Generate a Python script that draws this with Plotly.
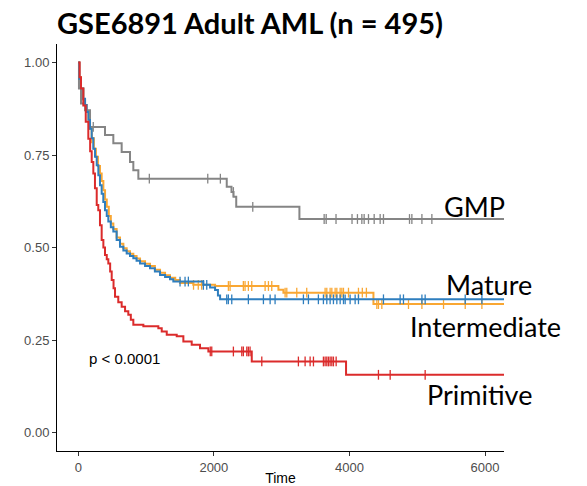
import numpy as np
import plotly.graph_objects as go

# ---------------- data ----------------
group_names = ["GMP", "Mature", "Intermediate", "Primitive"]

gmp_time = [0, 10, 40, 99, 173, 394, 517, 640, 763, 812, 886, 2190, 2260, 2290, 2330, 3262, 6280]
gmp_surv = [1.0, 0.93, 0.889, 0.871, 0.826, 0.804, 0.782, 0.758, 0.731, 0.709, 0.686, 0.664, 0.65, 0.637, 0.61, 0.577, 0.577]
gmp_cens = [221, 1048, 1910, 2096, 2288, 2574, 3627, 3657, 3802, 4038, 4118, 4183, 4217, 4281, 4365,
            4453, 4502, 4886, 4921, 5069, 5216]

mat_time = [0, 15, 40, 74, 100, 124, 150, 173, 198, 221, 247, 272, 296, 320, 345, 369, 394, 420, 443, 480,
            517, 566, 615, 665, 714, 763, 812, 860, 911, 985, 1058, 1130, 1206, 1280, 1353, 1402, 1845, 1944,
            2018, 2060, 2092, 6280]
mat_surv = [1.0, 0.956, 0.93, 0.902, 0.885, 0.866, 0.845, 0.821, 0.795, 0.767, 0.745, 0.722, 0.695, 0.668,
            0.645, 0.623, 0.601, 0.585, 0.57, 0.555, 0.543, 0.52, 0.502, 0.492, 0.484, 0.477, 0.471, 0.464,
            0.457, 0.45, 0.444, 0.435, 0.426, 0.42, 0.414, 0.408, 0.399, 0.392, 0.385, 0.37, 0.36, 0.36]
mat_cens = [1501, 1575, 1624, 1845, 1895, 2190, 2214, 2264, 2509, 2731, 2830, 2903, 3321, 3395, 3542, 3616,
            3666, 3715, 3764, 3814, 3863, 3912, 3937, 4010, 4084, 4133, 4502, 4748, 4797, 5069, 5117, 5708, 5954]

int_time = [0, 15, 40, 74, 100, 124, 150, 173, 198, 230, 260, 290, 320, 345, 370, 395, 420, 450, 480, 517,
            566, 615, 665, 714, 763, 812, 860, 911, 985, 1058, 1130, 1206, 1280, 1353, 1430, 1500, 1697, 2018,
            2952, 3026, 4354, 6280]
int_surv = [1.0, 0.96, 0.93, 0.90, 0.885, 0.866, 0.845, 0.821, 0.795, 0.767, 0.745, 0.72, 0.70, 0.68, 0.655,
            0.63, 0.61, 0.585, 0.565, 0.55, 0.527, 0.51, 0.498, 0.49, 0.483, 0.477, 0.47, 0.463, 0.456, 0.45,
            0.44, 0.432, 0.425, 0.418, 0.412, 0.404, 0.399, 0.396, 0.386, 0.378, 0.347, 0.347]
int_cens = [198, 1700, 1770, 1820, 2214, 2239, 2435, 2460, 2509, 2559, 2756, 2805, 2854, 3051, 3076, 3223,
            3370, 3641, 3666, 3715, 3740, 3789, 3814, 3863, 3888, 3912, 3986, 4133, 4190, 4250, 4404, 4428,
            4478, 4871, 5069, 5388, 5708, 5954]

pri_time = [0, 20, 40, 74, 110, 148, 175, 198, 222, 246, 272, 295, 320, 345, 370, 394, 420, 443, 470, 493,
            520, 542, 590, 640, 690, 738, 775, 812, 960, 1181, 1231, 1305, 1452, 1550, 1673, 1796, 1919, 2559,
            3950, 6280]
pri_surv = [1.0, 0.96, 0.93, 0.884, 0.84, 0.794, 0.76, 0.731, 0.70, 0.66, 0.615, 0.601, 0.56, 0.52, 0.50,
            0.48, 0.468, 0.457, 0.435, 0.412, 0.39, 0.367, 0.352, 0.34, 0.328, 0.318, 0.305, 0.291, 0.287,
            0.282, 0.273, 0.264, 0.26, 0.246, 0.237, 0.228, 0.219, 0.192, 0.156, 0.156]
pri_cens = [1947, 1969, 2288, 2412, 2435, 2486, 2509, 2534, 2707, 3247, 3346, 3420, 3469, 3616, 3641, 3666,
            3690, 3715, 3740, 3764, 3804, 4428, 4601, 5117]

x_ticks = [0, 2000, 4000, 6000]
y_ticks = [0.0, 0.25, 0.5, 0.75, 1.0]
y_tick_labels = ["0.00", "0.25", "0.50", "0.75", "1.00"]

title_text = "GSE6891 Adult AML (n = 495)"
pval_text = "p < 0.0001"
x_title = "Time"

# ---------------- styling ----------------
colors = {"GMP": "#858585", "Mature": "#2E7EBE", "Intermediate": "#F9A733", "Primitive": "#DB2B2B"}
series = {
    "GMP": (gmp_time, gmp_surv, gmp_cens),
    "Mature": (mat_time, mat_surv, mat_cens),
    "Intermediate": (int_time, int_surv, int_cens),
    "Primitive": (pri_time, pri_surv, pri_cens),
}
draw_order = ["GMP", "Intermediate", "Mature", "Primitive"]

OFF = 8                      # default page body margin
W, H = 587 - OFF, 486 - OFF
L, R, T, B = 57 - OFF, 83, 44 - OFF, 34.5
x_range = [-314, 6280]
y_range = [-0.05, 1.05]

fig = go.Figure()
for name in draw_order:
    t, s, c = series[name]
    t = np.asarray(t, float)
    s = np.asarray(s, float)
    col = colors[name]
    fig.add_trace(go.Scatter(x=t, y=s, mode="lines", line=dict(color=col, width=2, shape="hv"),
                             name=name, showlegend=False, hoverinfo="skip"))
    c = np.asarray(c, float)
    idx = np.searchsorted(t, c, side="right") - 1
    fig.add_trace(go.Scatter(x=c, y=s[idx], mode="markers",
                             marker=dict(symbol="line-ns", size=7, line=dict(color=col, width=1.3)),
                             showlegend=False, hoverinfo="skip"))

tick_font = dict(family="Liberation Sans, Arial, sans-serif", size=13, color="#4D4D4D")
fig.update_layout(
    width=W, height=H,
    margin=dict(l=L, r=R, t=T, b=B, autoexpand=False),
    paper_bgcolor="white", plot_bgcolor="white",
    xaxis=dict(range=x_range, tickvals=x_ticks, ticks="outside", ticklen=4, tickcolor="#333333",
               showline=True, linecolor="black", linewidth=1, showgrid=False, zeroline=False,
               automargin=False, tickfont=tick_font,
               title=dict(text=x_title, font=dict(family="Liberation Sans, Arial, sans-serif", size=14,
                                                  color="black"))),
    yaxis=dict(range=y_range, tickvals=y_ticks, ticktext=y_tick_labels, ticks="outside", ticklen=4,
               tickcolor="#333333", showline=True, linecolor="black", linewidth=1, showgrid=False,
               zeroline=False, automargin=False, tickfont=tick_font),
)

def px_to_paper(px, py):
    px -= OFF
    py -= OFF
    return (px - L) / (W - L - R), (H - B - py) / (H - T - B)

# title (centred on the reference title's centre)
tx, ty = px_to_paper(250, 22)
fig.add_annotation(text="<b>" + title_text + "</b>", x=tx, y=ty, xref="paper", yref="paper",
                   showarrow=False, xanchor="center", yanchor="middle",
                   font=dict(family="Lato", size=29, color="black"))

label_pos = {"GMP": (474.5, 207), "Mature": (488.5, 285), "Intermediate": (485.5, 327), "Primitive": (479.5, 395)}
for name in group_names:
    ax, ay = px_to_paper(*label_pos[name])
    fig.add_annotation(text=name, x=ax, y=ay, xref="paper", yref="paper", showarrow=False,
                       xanchor="center", yanchor="middle",
                       font=dict(family="Lato", size=27, color="black"))

fig.add_annotation(text=pval_text, x=124, y=0.2, xref="x", yref="y", showarrow=False,
                   xanchor="left", yanchor="middle",
                   font=dict(family="Liberation Sans, Arial, sans-serif", size=15, color="black"))

fig.write_html("out.html")
